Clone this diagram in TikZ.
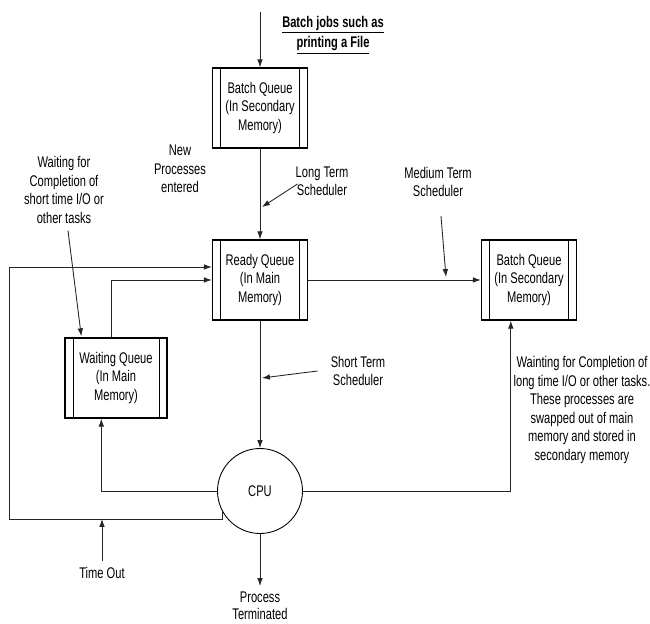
\documentclass[tikz,border=0pt]{standalone}
\usepackage{fontspec}
\setmainfont{Liberation Sans}[FakeStretch=0.72]
\usepackage{tikz}
\usetikzlibrary{arrows.meta,calc}

\begin{document}
\begin{tikzpicture}[x=0.02cm,y=-0.02cm,
  every node/.style={align=center,font=\fontsize{8.8}{10.5}\selectfont},
  queue/.style={draw,line width=0.8pt,minimum width=1.9cm,minimum height=1.6cm,inner sep=0pt,
    path picture={\draw[line width=0.4pt]
      ([xshift=0.16cm]path picture bounding box.north west) -- ([xshift=0.16cm]path picture bounding box.south west)
      ([xshift=-0.16cm]path picture bounding box.north east) -- ([xshift=-0.16cm]path picture bounding box.south east);}},
  line/.style={draw=black!85,line width=0.5pt},
  >={Latex[length=4.5pt,width=3.2pt]}]

\useasboundingbox (0,0) rectangle (650,624);

\node[queue] (batchtop) at (260,108) {Batch Queue\\(In Secondary\\Memory)};
\node[queue] (ready) at (260,280) {Ready Queue\\(In Main\\Memory)};
\node[queue,minimum width=2.04cm] (waiting) at (116,378) {Waiting Queue\\(In Main\\Memory)};
\node[queue] (batchright) at (529,280) {Batch Queue\\(In Secondary\\Memory)};
\node[circle,draw,line width=0.5pt,minimum size=1.7cm] (cpu) at (260,491) {CPU};

\node (jobs) at (333,35) {\textbf{\underline{Batch jobs such as}}\\[1pt]\textbf{\underline{printing a File}}};
\node (newproc) at (180,169) {New\\Processes\\entered};
\node (longterm) at (322,181) {Long Term\\Scheduler};
\node (medterm) at (438,182) {Medium Term\\Scheduler};
\node (waitnote) at (64,190) {Waiting for\\Completion of\\short time I/O or\\other tasks};
\node (shortterm) at (358,371) {Short Term\\Scheduler};
\node (swapnote) at (582,410) {Wainting for Completion of\\long time I/O or other tasks.\\These processes are\\swapped out of main\\memory and stored in\\secondary memory};
\node (timeout) at (102,573) {Time Out};
\node[font=\fontsize{8.8}{9.5}\selectfont] (terminated) at (260,606) {Process\\Terminated};

\coordinate (jobsin) at (260,12);
\coordinate (loopcorner) at (9,519);
\coordinate (longtip) at (262,207);
\coordinate (medtip) at (446,277);
\coordinate (shorttip) at (262,378);

\draw[line,->] (jobsin) -- (batchtop);
\draw[line,->] (batchtop) -- (ready);
\draw[line,->] (ready) -- (cpu);
\draw[line,->] (cpu.south) -- (terminated.north);
\draw[line,->] (ready) -- (batchright);
\draw[line,->] (cpu.east) -| ($(batchright.south west)+(30,0)$);
\draw[line,->] (cpu.west) -| ($(waiting.south west)+(37,0)$);
\draw[line,->] ($(waiting.north west)+(47,0)$) |- (ready.west);
\draw[line,->] (cpu.210) |- (loopcorner) |- ($(ready.west)+(0,-13)$);
\draw[line,->] (timeout.north) -- (timeout.north |- loopcorner);

\draw[line,->] ($(longterm.west)+(8,3)$) -- (longtip);
\draw[line,->] ($(medterm.south)+(3,13)$) -- (medtip);
\draw[line,->] ($(shortterm.west)+(-7,0)$) -- (shorttip);
\draw[line,->] ($(waitnote.south)+(4,1)$) -- ($(waiting.north west)+(17,-1)$);

\end{tikzpicture}
\end{document}
